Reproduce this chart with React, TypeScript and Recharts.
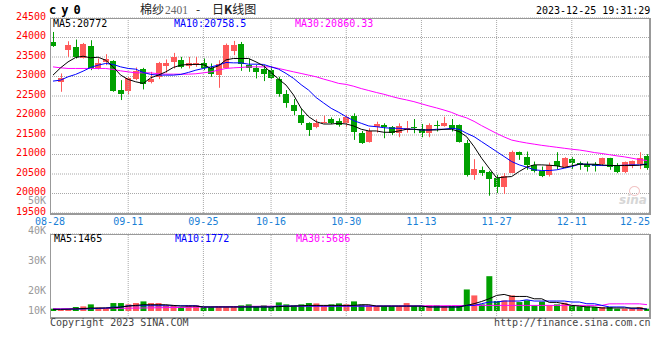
import React from "react";
import { ComposedChart, Bar, Line, XAxis, YAxis, CartesianGrid, ReferenceLine, Cell } from "recharts";

const dates = [
  "08-28", "08-29", "08-30", "08-31", "09-01", "09-04", "09-05", "09-06", "09-07", "09-08",
  "09-11", "09-12", "09-13", "09-14", "09-15", "09-18", "09-19", "09-20", "09-21", "09-22",
  "09-25", "09-26", "09-27", "09-28", "10-09", "10-10", "10-11", "10-12", "10-13", "10-16",
  "10-17", "10-18", "10-19", "10-20", "10-23", "10-24", "10-25", "10-26", "10-27", "10-30",
  "10-31", "11-01", "11-02", "11-03", "11-06", "11-07", "11-08", "11-09", "11-10", "11-13",
  "11-14", "11-15", "11-16", "11-17", "11-20", "11-21", "11-22", "11-23", "11-24", "11-27",
  "11-28", "11-29", "11-30", "12-01", "12-04", "12-05", "12-06", "12-07", "12-08", "12-11",
  "12-12", "12-13", "12-14", "12-15", "12-18", "12-19", "12-20", "12-21", "12-22", "12-25",
];
const labelDates = ["08-28", "09-11", "09-25", "10-16", "10-30", "11-13", "11-27", "12-11", "12-25"];

const opens = [
  23886, 22864, 23692, 23751, 23487, 23776, 23222, 23375, 23393, 22652,
  22634, 22933, 23188, 22864, 22976, 23273, 23375, 23418, 23273, 23291,
  23334, 23206, 23035, 23222, 23648, 23827, 23291, 23222, 23188, 23163,
  22933, 22549, 22268, 22013, 21800, 21698, 21800, 21903, 21859, 21800,
  21995, 21560, 21330, 21713, 21757, 21698, 21545, 21629, 21713, 21647,
  21545, 21765, 21731, 21757, 21757, 21289, 20479, 20607, 20563, 20395,
  20165, 20538, 21059, 20931, 20734, 20581, 20479, 20837, 20691, 20880,
  20778, 20752, 20752, 20752, 20906, 20734, 20563, 20709, 20752, 20965,
];
const highs = [
  24142, 23078, 23904, 23947, 23861, 23930, 23462, 23572, 23418, 22907,
  22992, 23232, 23222, 23119, 23375, 23436, 23605, 23503, 23503, 23503,
  23462, 23334, 23418, 23845, 23912, 23886, 23462, 23291, 23291, 23273,
  22992, 22652, 22422, 22184, 21826, 21903, 21995, 21950, 21928, 22013,
  22056, 21604, 21673, 21841, 21800, 21731, 21800, 21859, 21910, 21783,
  21800, 21867, 21969, 21910, 21770, 21374, 20880, 20691, 20580, 20479,
  20522, 21100, 21075, 21075, 20819, 20691, 20793, 21059, 20931, 20931,
  20819, 20819, 20803, 20920, 20915, 20778, 20819, 20845, 21059, 21008,
];
const lows = [
  23758, 22608, 23503, 23462, 23462, 23163, 23181, 23291, 22608, 22396,
  22549, 22907, 22669, 22823, 22933, 23094, 23206, 23206, 23206, 23247,
  23163, 22992, 22710, 23206, 23546, 23145, 23119, 22951, 22882, 22933,
  22480, 22199, 22013, 21757, 21476, 21673, 21800, 21780, 21713, 21698,
  21374, 21271, 21305, 21560, 21417, 21501, 21443, 21560, 21545, 21443,
  21443, 21590, 21713, 21590, 21305, 20435, 20351, 20453, 19942, 20011,
  19986, 20522, 20862, 20607, 20538, 20420, 20435, 20625, 20676, 20625,
  20607, 20563, 20563, 20709, 20607, 20522, 20522, 20650, 20625, 20607,
];
const closes = [
  23784, 22966, 23802, 23503, 23827, 23222, 23334, 23444, 22634, 22549,
  22951, 23137, 22805, 22933, 23349, 23349, 23503, 23232, 23334, 23334,
  23206, 23053, 23308, 23802, 23802, 23316, 23206, 23104, 23053, 22951,
  22549, 22327, 22115, 21816, 21629, 21816, 21841, 21800, 21757, 21969,
  21570, 21305, 21611, 21775, 21698, 21545, 21731, 21673, 21680, 21545,
  21757, 21739, 21816, 21655, 21330, 20479, 20625, 20538, 20377, 20165,
  20440, 21075, 20990, 20734, 20589, 20461, 20734, 20709, 20906, 20778,
  20734, 20676, 20709, 20906, 20691, 20563, 20804, 20837, 20921, 20650,
];
const ma5 = [
  23035, 23222, 23375, 23487, 23520, 23478, 23495, 23418, 23247, 23035,
  22925, 22864, 22823, 22966, 23035, 23119, 23232, 23291, 23309, 23309,
  23309, 23206, 23273, 23426, 23462, 23462, 23462, 23375, 23273, 23104,
  22933, 22779, 22524, 22184, 21969, 21841, 21782, 21782, 21800, 21782,
  21731, 21647, 21604, 21604, 21570, 21570, 21604, 21647, 21647, 21629,
  21629, 21629, 21647, 21647, 21590, 21458, 21203, 20906, 20650, 20400,
  20420, 20435, 20563, 20676, 20734, 20734, 20725, 20709, 20666, 20709,
  20752, 20752, 20752, 20734, 20717, 20717, 20717, 20717, 20725, 20750,
];
const ma10 = [
  22882, 22907, 22992, 23053, 23137, 23232, 23291, 23334, 23309, 23247,
  23206, 23188, 23104, 23053, 23035, 23035, 23035, 23053, 23104, 23163,
  23206, 23247, 23291, 23359, 23350, 23350, 23316, 23316, 23309, 23247,
  23188, 23078, 22951, 22790, 22650, 22460, 22320, 22184, 22082, 21969,
  21867, 21800, 21731, 21713, 21688, 21673, 21673, 21655, 21647, 21629,
  21629, 21647, 21647, 21673, 21647, 21545, 21458, 21330, 21203, 21075,
  20948, 20819, 20734, 20676, 20607, 20589, 20589, 20607, 20650, 20691,
  20752, 20752, 20725, 20717, 20717, 20717, 20725, 20734, 20734, 20758,
];
const ma30 = [
  23247, 23222, 23206, 23206, 23206, 23206, 23206, 23206, 23181, 23145,
  23119, 23094, 23094, 23094, 23070, 23060, 23060, 23060, 23060, 23070,
  23094, 23119, 23163, 23206, 23222, 23232, 23247, 23247, 23247, 23247,
  23206, 23163, 23119, 23078, 23035, 22992, 22933, 22880, 22823, 22797,
  22750, 22690, 22640, 22590, 22545, 22490, 22440, 22400, 22355, 22300,
  22245, 22195, 22140, 22080, 22000, 21940, 21850, 21740, 21640, 21540,
  21450, 21370, 21330, 21295, 21265, 21235, 21210, 21185, 21160, 21135,
  21115, 21085, 21050, 21025, 20995, 20965, 20940, 20905, 20870, 20845,
];
const volumes = [
  2072, 1184, 1184, 3552, 4144, 5920, 2960, 2072, 7104, 7104,
  5920, 7104, 8584, 7104, 7104, 5032, 5032, 3552, 5032, 5032,
  3552, 3552, 4144, 3552, 4144, 5032, 5920, 4144, 5032, 3552,
  7696, 5920, 5032, 5920, 7104, 6808, 5032, 5920, 6808, 5920,
  8584, 5624, 5032, 4440, 4440, 4440, 4440, 7104, 4440, 4440,
  5032, 5032, 4440, 4440, 4440, 19240, 13912, 5920, 31080, 8880,
  9472, 13912, 7992, 9472, 5032, 8288, 5032, 5920, 7400, 5032,
  4144, 4144, 3552, 3552, 3552, 2072, 2072, 2072, 3552, 2072,
];
const vma5 = [
  1500, 1500, 1600, 1900, 2200, 2600, 2700, 2700, 2700, 3500,
  4400, 5000, 5600, 5600, 5600, 5600, 5000, 4400, 4400, 4400,
  3600, 3600, 3600, 3600, 3600, 3600, 3600, 3600, 3600, 3600,
  3900, 4200, 4400, 4700, 5000, 5000, 5000, 5000, 5000, 5000,
  5000, 5600, 5600, 4400, 4400, 4400, 4400, 4400, 4400, 4400,
  3600, 3600, 3600, 3600, 3600, 5000, 6500, 8500, 10900, 13900,
  14800, 13000, 13000, 13000, 10900, 10900, 7700, 7700, 6500, 5000,
  4400, 3600, 3600, 2700, 2700, 2700, 2700, 2700, 2700, 1465,
];
const vma10 = [
  1500, 1550, 1600, 1700, 1800, 2000, 2300, 2700, 3500, 3500,
  4700, 4700, 4700, 4700, 4700, 4700, 4700, 4700, 4700, 4700,
  3600, 3600, 3600, 3600, 3600, 3600, 3600, 3600, 3600, 3600,
  4400, 4400, 4400, 4400, 4400, 4400, 4400, 4400, 4400, 4400,
  4400, 4400, 4400, 4400, 4400, 4400, 4400, 4400, 4400, 4400,
  3600, 3600, 3600, 3600, 3600, 5000, 5000, 6500, 8000, 8000,
  8900, 8900, 8900, 10000, 8900, 8900, 8900, 8900, 8900, 8000,
  8000, 6500, 6500, 5000, 3600, 3600, 3600, 2100, 2100, 1772,
];
const vma30 = [
  2000, 2000, 2100, 2100, 2200, 2200, 2300, 2300, 2400, 2400,
  2500, 2600, 2700, 2800, 2900, 3000, 3100, 3200, 3300, 3400,
  3500, 3600, 3700, 3800, 3900, 4000, 4200, 4200, 4300, 4300,
  4300, 4300, 4400, 4400, 4400, 4400, 4400, 4400, 4400, 4400,
  4400, 4400, 4400, 4400, 4500, 4500, 4500, 4500, 4600, 4600,
  4700, 4700, 4700, 4800, 4800, 5000, 5000, 5000, 5000, 5000,
  5000, 5000, 5000, 5000, 5000, 5000, 5000, 5000, 5000, 5000,
  5000, 5000, 5000, 5000, 6400, 6400, 6400, 6400, 6400, 5686,
];
const priceTicks = [19500, 20000, 20500, 21000, 21500, 22000, 22500, 23000, 23500, 24000, 24500];
const volTicks = [-6250, 12500, 31250, 50000, 68750];
const volLabels = ["50K", "40K", "30K", "20K", "10K"];
const priceLegend = ["MA5:20772", "MA10:20758.5", "MA30:20860.33"];
const volLegend = ["MA5:1465", "MA10:1772", "MA30:5686"];

const UP = "#ff5a5a";
const DOWN = "#00a000";
const GRID = "#a8a8a8";
const MONO = '"DejaVu Sans Mono", monospace';

const rows = dates.map((d, i) => ({
  i,
  date: d,
  open: opens[i],
  high: highs[i],
  low: lows[i],
  close: closes[i],
  range: [lows[i], highs[i]],
  ma5: ma5[i],
  ma10: ma10[i],
  ma30: ma30[i],
  vol: volumes[i],
  vma5: vma5[i],
  vma10: vma10[i],
  vma30: vma30[i],
}));

const tickIdx = labelDates.map((d) => dates.indexOf(d));
const gridIdx = tickIdx.slice(1, -1);
const lastIdx = dates.length - 1;

const Candle = (props: any) => {
  const { x, y, width, height, payload } = props;
  const { open, close, high, low } = payload;
  const color = close >= open ? UP : DOWN;
  const top = Math.min(y, y + height);
  const span = Math.abs(height);
  const k = high === low ? 0 : span / (high - low);
  const yO = top + (high - open) * k;
  const yC = top + (high - close) * k;
  const cx = Math.round(x + width / 2) + 0.5;
  return (
    <g>
      <line x1={cx} x2={cx} y1={top} y2={top + span} stroke={color} strokeWidth={1} />
      <rect
        x={Math.round(x)}
        y={Math.min(yO, yC)}
        width={Math.round(width)}
        height={Math.max(1, Math.abs(yO - yC))}
        fill={color}
        shapeRendering="crispEdges"
      />
    </g>
  );
};

const PriceTick = ({ x, y, payload }: any) => (
  <text x={x} y={y + 1.6} textAnchor="end" fill="#ff0000" fontSize={10} fontFamily={MONO}>
    {payload.value}
  </text>
);

const DateTick = ({ x, y, payload }: any) => {
  const last = payload.value === lastIdx;
  const first = payload.value === 0;
  return (
    <text
      x={last ? x + 3 : first ? x - 3 : x}
      y={y + 11.6}
      textAnchor={last ? "end" : "middle"}
      fill="#1a7fd6"
      fontSize={10}
      fontFamily={MONO}
    >
      {dates[payload.value]}
    </text>
  );
};

const Txt = ({ left, top, color, children, style }: any) => (
  <div
    style={{
      position: "absolute",
      left,
      top,
      color,
      fontFamily: MONO,
      fontSize: 10,
      lineHeight: "12px",
      whiteSpace: "pre",
      ...style,
    }}
  >
    {children}
  </div>
);

const Frame = ({ top, height }: any) => (
  <div
    style={{
      position: "absolute",
      left: 50,
      top,
      width: 601,
      height,
      boxSizing: "border-box",
      borderLeft: "1px solid #999",
      borderTop: "1px solid #999",
      borderRight: "2px solid #999",
      borderBottom: "2px solid #999",
      pointerEvents: "none",
    }}
  />
);

const legendLefts = [53, 174, 295];
const legendColors = ["#000000", "#0000ff", "#ff00ff"];
const volLabelTops = [195, 225, 255, 284.5, 304.5];

export default function App() {
  return (
    <div style={{ position: "absolute", left: 0, top: 0, width: 660, height: 360, background: "#fff", overflow: "hidden" }}>
      <div style={{ position: "absolute", left: 0, top: 0 }}>
        <ComposedChart width={660} height={231} data={rows} margin={{ top: 18, right: 10, bottom: 0, left: 0 }}>
          <CartesianGrid vertical={false} stroke={GRID} strokeDasharray="1 1" />
          {gridIdx.map((g) => (
            <ReferenceLine key={g} x={g} stroke={GRID} strokeDasharray="1 1" />
          ))}
          <XAxis
            dataKey="i"
            type="number"
            domain={[-0.4, 79.4]}
            ticks={tickIdx}
            interval={0}
            height={18}
            tickSize={0}
            tickMargin={0}
            axisLine={false}
            tick={<DateTick />}
          />
          <YAxis
            domain={[19500, 24500]}
            ticks={priceTicks}
            interval={0}
            width={50}
            tickSize={0}
            tickMargin={4}
            axisLine={false}
            tick={<PriceTick />}
          />
          <Bar dataKey="range" barSize={6} shape={<Candle />} isAnimationActive={false} />
          <Line dataKey="ma30" stroke="#ff00ff" strokeWidth={1} dot={false} activeDot={false} isAnimationActive={false} />
          <Line dataKey="ma10" stroke="#0000ff" strokeWidth={1} dot={false} activeDot={false} isAnimationActive={false} />
          <Line dataKey="ma5" stroke="#000000" strokeWidth={1} dot={false} activeDot={false} isAnimationActive={false} />
        </ComposedChart>
      </div>
      <div style={{ position: "absolute", left: 0, top: 226 }}>
        <ComposedChart width={660} height={100} data={rows} margin={{ top: 8, right: 10, bottom: 0, left: 0 }}>
          <CartesianGrid vertical={false} stroke={GRID} strokeDasharray="1 1" />
          {gridIdx.map((g) => (
            <ReferenceLine key={g} x={g} stroke={GRID} strokeDasharray="1 1" />
          ))}
          <XAxis dataKey="i" type="number" domain={[-0.4, 79.4]} ticks={tickIdx} height={8} tick={false} tickLine={false} axisLine={false} />
          <YAxis domain={[-6250, 68750]} ticks={volTicks} interval={0} width={50} tick={false} tickLine={false} axisLine={false} />
          <Bar dataKey="vol" barSize={6} isAnimationActive={false}>
            {rows.map((r) => (
              <Cell key={r.i} fill={r.close >= r.open ? UP : DOWN} />
            ))}
          </Bar>
          <Line dataKey="vma30" stroke="#ff00ff" strokeWidth={1} dot={false} activeDot={false} isAnimationActive={false} />
          <Line dataKey="vma10" stroke="#0000ff" strokeWidth={1} dot={false} activeDot={false} isAnimationActive={false} />
          <Line dataKey="vma5" stroke="#000000" strokeWidth={1} dot={false} activeDot={false} isAnimationActive={false} />
        </ComposedChart>
      </div>

      <Frame top={18} height={197} />
      <Frame top={234} height={85} />

      <Txt left={49} top={3} color="#000" style={{ fontSize: 12, fontWeight: "bold", letterSpacing: 5, lineHeight: "14px" }}>
        cy0
      </Txt>
      <div style={{ position: "absolute", left: 140, top: 1, fontFamily: '"Noto Sans CJK SC"', fontSize: 12, lineHeight: "16px", color: "#222" }}>
        棉纱
      </div>
      <div style={{ position: "absolute", left: 165, top: 2, fontFamily: '"Liberation Serif"', fontSize: 11.5, lineHeight: "16px", color: "#666" }}>
        2401
      </div>
      <div style={{ position: "absolute", left: 196, top: 1, fontFamily: '"Noto Sans CJK SC"', fontSize: 12, lineHeight: "16px", color: "#222" }}>
        -
      </div>
      <div style={{ position: "absolute", left: 212, top: 1, fontFamily: '"Noto Sans CJK SC"', fontSize: 12, lineHeight: "16px", color: "#222" }}>
        日<b>K</b>线图
      </div>
      <Txt left={536} top={5} color="#000">2023-12-25 19:31:29</Txt>

      {priceLegend.map((t, k) => (
        <Txt key={t} left={legendLefts[k]} top={17.5} color={legendColors[k]}>
          {t}
        </Txt>
      ))}
      {volLegend.map((t, k) => (
        <Txt key={t} left={legendLefts[k] + 1} top={232.5} color={legendColors[k]}>
          {t}
        </Txt>
      ))}
      {volLabels.map((t, k) => (
        <Txt key={t} left={22} top={volLabelTops[k]} color="#999" style={{ width: 24, textAlign: "right" }}>
          {t}
        </Txt>
      ))}

      <div style={{ position: "absolute", left: 629, top: 186, width: 9, height: 8, borderRadius: "50%", border: "1px solid #f2c4c4" }} />
      <div
        style={{
          position: "absolute",
          left: 619,
          top: 193,
          fontFamily: '"DejaVu Sans"',
          fontStyle: "italic",
          fontWeight: "bold",
          fontSize: 12,
          lineHeight: "14px",
          color: "#d6d6d6",
        }}
      >
        sina
      </div>

      <Txt left={50} top={317} color="#444">Copyright 2023 SINA.COM</Txt>
      <Txt left={494} top={317} color="#444">http://finance.sina.com.cn</Txt>
    </div>
  );
}
